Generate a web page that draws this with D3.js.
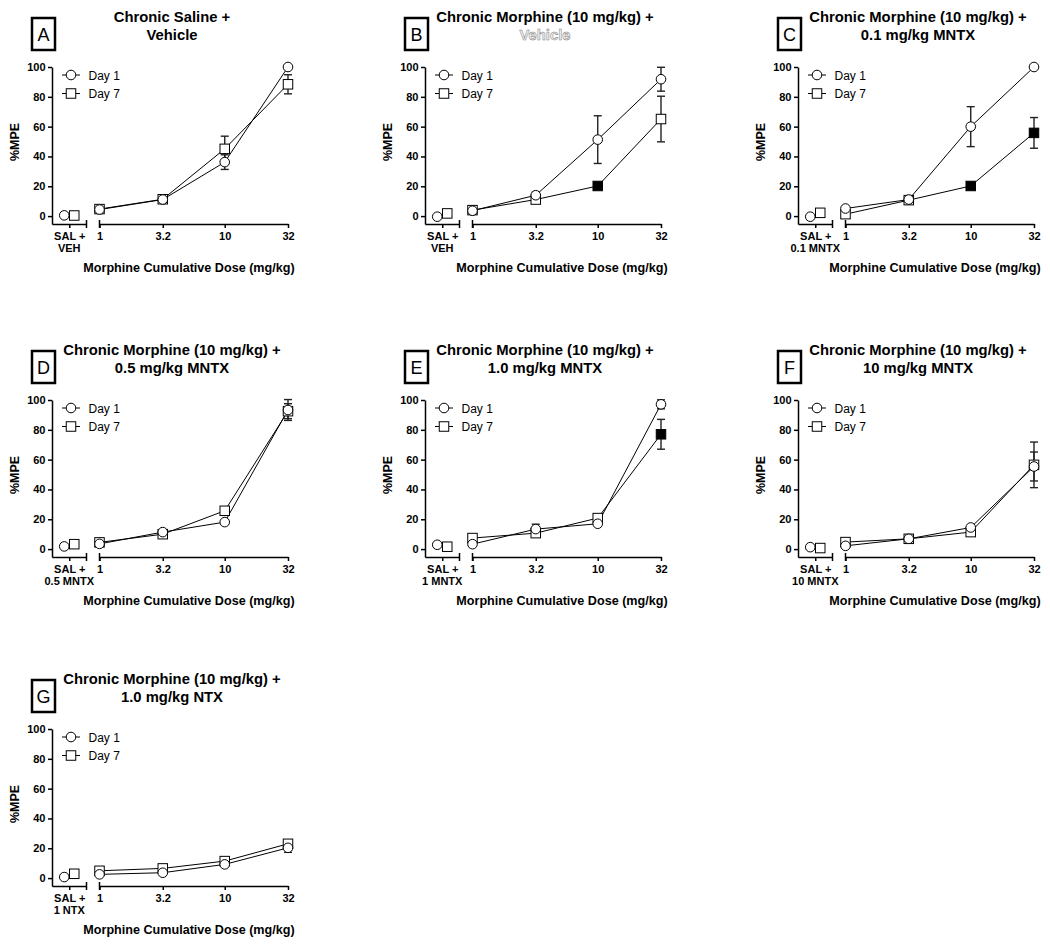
<!DOCTYPE html>
<html>
<head>
<meta charset="utf-8">
<script src="https://cdn.jsdelivr.net/npm/d3@7"></script>
<style>
  body { margin: 0; background: #fff; }
  svg { font-family: "Liberation Sans", Arial, sans-serif; }
  .tick text { font-weight: bold; font-size: 11px; fill: #000; }
</style>
</head>
<body>
<svg id="chart" width="1050" height="950"></svg>
<script>
// data
var doses = [1, 3.2, 10, 32];
var letters = ["A", "B", "C", "D", "E", "F", "G"];
var titleLine1 = ["Chronic Saline +", "Chronic Morphine (10 mg/kg) +", "Chronic Morphine (10 mg/kg) +",
  "Chronic Morphine (10 mg/kg) +", "Chronic Morphine (10 mg/kg) +", "Chronic Morphine (10 mg/kg) +",
  "Chronic Morphine (10 mg/kg) +"];
var titleLine2 = ["Vehicle", "Vehicle", "0.1 mg/kg MNTX", "0.5 mg/kg MNTX", "1.0 mg/kg MNTX", "10 mg/kg MNTX", "1.0 mg/kg NTX"];
var salLine2 = ["VEH", "VEH", "0.1 MNTX", "0.5 MNTX", "1 MNTX", "10 MNTX", "1 NTX"];

var day1Sal = [0.5, -0.4, -0.4, 1.8, 2.9, 1.3, 0.7];
var day7Sal = [0.4, 1.8, 2.2, 3.3, 1.6, 0.7, 2.9];

var day1Mean = [[4.4, 11.1, 36.2, 100], [3.6, 14, 51.3, 91.8], [5.1, 11.1, 60, 100], [3.5, 11.4, 18.1, 93.3],
  [3.3, 13.4, 17, 97.1], [2.2, 6.9, 14.5, 55.4], [2.5, 3.6, 9.2, 20.3]];
var day1Sem = [[1, 1, 4.9, 0], [1, 2.2, 16, 8], [0.5, 1, 13.4, 0], [0.5, 1, 1, 7],
  [0.5, 3.3, 1, 3], [0.5, 0.5, 1, 9.7], [0.5, 0.5, 0.5, 3]];
var day7Mean = [[4.7, 11.3, 45.1, 88.4], [4.0, 11.1, 20.2, 65.1], [1.3, 10.7, 20.2, 55.8], [4.5, 10, 25.7, 92.5],
  [7.4, 10.7, 20.8, 77], [4.7, 6.9, 11.4, 56.5], [4.9, 6.5, 11.4, 23]];
var day7Sem = [[1, 1, 8.5, 6.4], [1, 1, 1.5, 15.3], [1, 1, 1, 10.3], [1, 1, 1, 5],
  [1, 1, 1, 10], [1, 1, 1, 15.3], [0.5, 1, 1, 2]];
// Day 7 doses drawn as filled (significant) squares
var day7Sig = [[], [10], [10, 32], [], [32], [], []];

var yTicks = [0, 20, 40, 60, 80, 100];

var colX = [52, 425, 798];
var rowTop = [67, 400, 729];

var svg = d3.select("#chart");
svg.append("rect").attr("width", 1050).attr("height", 950).attr("fill", "#fff");

var R = 4.8, SQ = 9.5;

function drawMarker(g, shape, x, y, filled) {
  if (shape == "circle") {
    g.append("circle").attr("cx", x).attr("cy", y).attr("r", R)
      .attr("fill", filled ? "#000" : "#fff").attr("stroke", "#000").attr("stroke-width", 1);
  } else {
    g.append("rect").attr("x", x - SQ / 2).attr("y", y - SQ / 2).attr("width", SQ).attr("height", SQ)
      .attr("fill", filled ? "#000" : "#fff").attr("stroke", "#000").attr("stroke-width", 1);
  }
}

function errBar(g, x, y0, y1) {
  g.append("line").attr("x1", x).attr("x2", x).attr("y1", y0).attr("y2", y1)
    .attr("stroke", "#222").attr("stroke-width", 1.4);
  [y0, y1].forEach(function(yy) {
    g.append("line").attr("x1", x - 4).attr("x2", x + 4).attr("y1", yy).attr("y2", yy)
      .attr("stroke", "#222").attr("stroke-width", 1.4);
  });
}

letters.forEach(function(letter, i) {
  var x0 = colX[i % 3], top = rowTop[Math.floor(i / 3)];
  var g = svg.append("g");

  var y = d3.scaleLinear().domain([-5.3, 100]).range([top + 157, top]);
  var xSal = d3.scalePoint().domain(["SAL"]).range([x0, x0 + 34.5]).padding(0.5);
  var xDose = d3.scaleLog().domain([1, 32]).range([x0 + 47.5, x0 + 236]);
  var axisY = top + 157;

  // y axis
  var ya = g.append("g").attr("transform", "translate(" + x0 + ",0)")
    .call(d3.axisLeft(y).tickValues(yTicks).tickSize(4).tickPadding(2.5).tickSizeOuter(0));
  ya.selectAll("path,line").attr("stroke", "#000").attr("stroke-width", 1.5);

  // x axis, left segment (SAL)
  var xa1 = g.append("g").attr("transform", "translate(0," + axisY + ")")
    .call(d3.axisBottom(xSal).tickSize(4).tickPadding(4).tickSizeOuter(0).tickFormat(function() { return "SAL +"; }));
  xa1.selectAll("path,line").attr("stroke", "#000").attr("stroke-width", 1.5);
  xa1.append("text").attr("x", xSal("SAL")).attr("y", 28).attr("text-anchor", "middle")
    .attr("font-weight", "bold").attr("font-size", "11px").attr("fill", "#000").text(salLine2[i]);

  // x axis, right segment (doses)
  var xa2 = g.append("g").attr("transform", "translate(0," + axisY + ")")
    .call(d3.axisBottom(xDose).tickValues(doses).tickSize(4).tickPadding(4).tickSizeOuter(0)
      .tickFormat(function(d) { return d; }));
  xa2.selectAll("path,line").attr("stroke", "#000").attr("stroke-width", 1.5);

  // break marks
  [x0 + 34.5, xDose(1)].forEach(function(bx) {
    g.append("line").attr("x1", bx).attr("x2", bx).attr("y1", axisY - 4).attr("y2", axisY + 4)
      .attr("stroke", "#000").attr("stroke-width", 1.5);
  });

  // axis titles
  g.append("text").attr("transform", "translate(" + (x0 - 37.5) + "," + (top + 75) + ") rotate(-90)")
    .attr("text-anchor", "middle").attr("dy", "0.35em").attr("font-weight", "bold").attr("font-size", "12.5px")
    .text("%MPE");
  g.append("text").attr("x", x0 + 137).attr("y", axisY + 48).attr("text-anchor", "middle")
    .attr("font-weight", "bold").attr("font-size", "12.6px").text("Morphine Cumulative Dose (mg/kg)");

  // title
  g.append("text").attr("x", x0 + 120).attr("y", top - 45.5).attr("text-anchor", "middle")
    .attr("font-weight", "bold").attr("font-size", "14.8px").text(titleLine1[i]);
  var t2 = g.append("text").attr("x", x0 + 120).attr("y", top - 27.5).attr("text-anchor", "middle")
    .attr("font-weight", "bold").attr("font-size", "14.8px").text(titleLine2[i]);
  if (letter == "B") t2.attr("fill", "#f4f4f4").attr("stroke", "#777").attr("stroke-width", 0.5);

  // panel letter box
  g.append("rect").attr("x", x0 - 20).attr("y", top - 49).attr("width", 23).attr("height", 32)
    .attr("fill", "none").attr("stroke", "#000").attr("stroke-width", 2.5);
  g.append("text").attr("x", x0 - 8.5).attr("y", top - 26.5).attr("text-anchor", "middle")
    .attr("font-size", "18px").text(letter);

  // lines
  var line = d3.line().x(function(d) { return xDose(d[0]); }).y(function(d) { return y(d[1]); });
  var d7 = doses.map(function(d, j) { return [d, day7Mean[i][j]]; });
  var d1 = doses.map(function(d, j) { return [d, day1Mean[i][j]]; });
  g.append("path").datum(d7).attr("d", line).attr("fill", "none").attr("stroke", "#000").attr("stroke-width", 1);
  g.append("path").datum(d1).attr("d", line).attr("fill", "none").attr("stroke", "#000").attr("stroke-width", 1);

  // error bars
  doses.forEach(function(d, j) {
    if (day7Sem[i][j] > 0) errBar(g, xDose(d), y(day7Mean[i][j] + day7Sem[i][j]), y(day7Mean[i][j] - day7Sem[i][j]));
    if (day1Sem[i][j] > 0) errBar(g, xDose(d), y(day1Mean[i][j] + day1Sem[i][j]), y(day1Mean[i][j] - day1Sem[i][j]));
  });

  // markers
  drawMarker(g, "circle", xSal("SAL") - 5, y(day1Sal[i]), false);
  drawMarker(g, "square", xSal("SAL") + 5, y(day7Sal[i]), false);
  doses.forEach(function(d, j) {
    drawMarker(g, "square", xDose(d), y(day7Mean[i][j]), day7Sig[i].indexOf(d) >= 0);
  });
  doses.forEach(function(d, j) {
    drawMarker(g, "circle", xDose(d), y(day1Mean[i][j]), false);
  });

  // legend
  var lx = x0 + 19;
  [["circle", "Day 1", top + 8], ["square", "Day 7", top + 26.5]].forEach(function(it) {
    g.append("line").attr("x1", lx - 9).attr("x2", lx + 9).attr("y1", it[2]).attr("y2", it[2])
      .attr("stroke", "#000").attr("stroke-width", 1);
    drawMarker(g, it[0], lx, it[2], false);
    g.append("text").attr("x", x0 + 36.5).attr("y", it[2] + 4.5).attr("font-size", "12px").text(it[1]);
  });
});
</script>
</body>
</html>
